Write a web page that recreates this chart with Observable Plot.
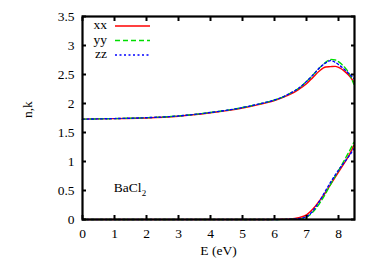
<!DOCTYPE html>
<html>
<head>
<meta charset="utf-8">
<script src="https://cdn.jsdelivr.net/npm/d3@7"></script>
<script src="https://cdn.jsdelivr.net/npm/@observablehq/plot@0.6"></script>
<style>
  html, body { margin: 0; padding: 0; background: #fff; }
  svg, svg text { font-family: "Times New Roman", serif !important; }
</style>
</head>
<body>
<div id="chart"></div>
<script>
// Photon energy (eV)
const energy = [0, 1, 2, 3, 4, 5, 5.5, 6, 6.25, 6.5, 6.75, 7, 7.2, 7.4, 7.6, 7.75, 7.9, 8.05, 8.2, 8.35, 8.48];
// refractive index n
const nXX = [1.73, 1.74, 1.75, 1.78, 1.84, 1.92, 1.98, 2.05, 2.10, 2.16, 2.24, 2.34, 2.45, 2.56, 2.63, 2.635, 2.64, 2.61, 2.55, 2.47, 2.37];
const nYY = [1.73, 1.74, 1.755, 1.785, 1.845, 1.93, 1.99, 2.06, 2.11, 2.18, 2.26, 2.38, 2.49, 2.61, 2.71, 2.76, 2.75, 2.70, 2.62, 2.50, 2.33];
const nZZ = [1.73, 1.74, 1.755, 1.785, 1.845, 1.93, 1.99, 2.06, 2.11, 2.18, 2.26, 2.38, 2.49, 2.61, 2.70, 2.74, 2.71, 2.65, 2.58, 2.50, 2.43];
// extinction coefficient k
const kXX = [0, 0, 0, 0, 0, 0, 0, 0.002, 0.005, 0.01, 0.03, 0.08, 0.18, 0.32, 0.47, 0.60, 0.73, 0.86, 0.99, 1.13, 1.28];
const kYY = [0, 0, 0, 0, 0, 0, 0, 0, 0.002, 0.004, 0.01, 0.04, 0.13, 0.27, 0.45, 0.60, 0.75, 0.89, 1.04, 1.19, 1.33];
const kZZ = [0, 0, 0, 0, 0, 0, 0, 0, 0.002, 0.005, 0.015, 0.05, 0.15, 0.31, 0.50, 0.64, 0.77, 0.89, 1.00, 1.11, 1.22];

const components = ["xx", "yy", "zz"];
const colors = ["#ff0000", "#00dd00", "#0000ff"];
const dashes = [null, "5,3", "2,2.5"];
const xTicks = [0, 1, 2, 3, 4, 5, 6, 7, 8];
const yTicks = [0, 0.5, 1, 1.5, 2, 2.5, 3, 3.5];

const nSeries = [nXX, nYY, nZZ];
const kSeries = [kXX, kYY, kZZ];

function rows(values) { return energy.map((e, i) => ({E: e, v: values[i]})); }

const lineMarks = [];
components.forEach((c, j) => {
  [nSeries[j], kSeries[j]].forEach(vals => {
    lineMarks.push(Plot.line(rows(vals), {
      x: "E", y: "v", stroke: colors[j], strokeWidth: 1.4,
      strokeDasharray: dashes[j], curve: "monotone-x"
    }));
  });
});

const W = 374, H = 262, ML = 82, MR = 20, MT = 16, MB = 43;

const plot = Plot.plot({
  width: W, height: H,
  marginLeft: ML, marginRight: MR, marginTop: MT, marginBottom: MB,
  style: {fontFamily: "'Times New Roman', serif", fontSize: "13.5px", background: "#fff", color: "#000"},
  x: {domain: [0, 8.5]},
  y: {domain: [0, 3.5]},
  marks: [
    ...lineMarks,
    Plot.axisX(xTicks, {anchor: "bottom", tickSize: 0, tickPadding: 9, label: null, fontSize: 13.5}),
    Plot.axisX(xTicks, {anchor: "bottom", tickSize: -4, text: null, label: null, strokeWidth: 2}),
    Plot.axisX(xTicks, {anchor: "top", tickSize: -4, text: null, label: null, strokeWidth: 2}),
    Plot.axisY(yTicks, {anchor: "left", tickSize: 0, tickPadding: 8, label: null, fontSize: 13.5, tickFormat: d => String(d)}),
    Plot.axisY(yTicks, {anchor: "left", tickSize: -4, text: null, label: null, strokeWidth: 2}),
    Plot.axisY(yTicks, {anchor: "right", tickSize: -4, text: null, label: null, strokeWidth: 2}),
    Plot.frame({stroke: "#000", strokeWidth: 2.2}),
    Plot.text(["E (eV)"], {frameAnchor: "bottom", dy: 35, fontSize: 13.5}),
    Plot.text(["n,k"], {frameAnchor: "left", dx: -55, rotate: -90, fontSize: 13.5})
  ]
});
document.getElementById("chart").appendChild(plot);

// legend and annotation
const svg = d3.select(plot);
const x = plot.scale("x"), y = plot.scale("y");
components.forEach((c, j) => {
  const yy = MT + 10 + j * 14.5;
  svg.append("text").attr("x", 107).attr("y", yy).attr("text-anchor", "end")
    .attr("dominant-baseline", "middle").attr("font-size", 13.5).text(c);
  svg.append("line").attr("x1", 115).attr("x2", 150).attr("y1", yy).attr("y2", yy)
    .attr("stroke", colors[j]).attr("stroke-width", 1.4)
    .attr("stroke-dasharray", dashes[j]);
});
const label = svg.append("text").attr("x", x.apply(1.5)).attr("y", y.apply(0.46)).attr("font-size", 13.5);
label.append("tspan").text("BaCl");
label.append("tspan").attr("font-size", 9).attr("dy", 4).text("2");
</script>
</body>
</html>
